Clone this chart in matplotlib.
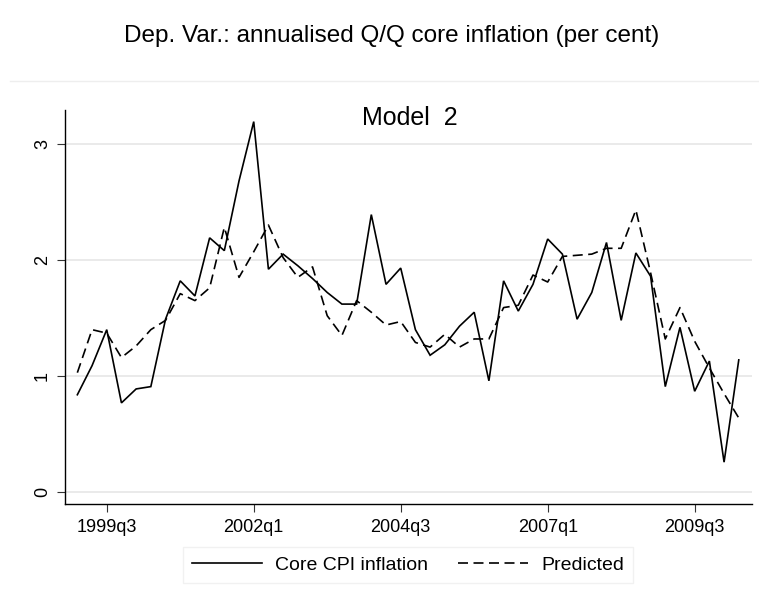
import matplotlib
matplotlib.use("Agg")
import matplotlib.pyplot as plt
from matplotlib.lines import Line2D

plt.rcParams['font.family'] = ['Liberation Sans', 'DejaVu Sans']

# Quarterly data, 1999q1 .. 2010q2
start_year = 1999
start_quarter = 1

core_cpi = [0.84, 1.09, 1.40, 0.77, 0.89, 0.91, 1.49, 1.82, 1.69, 2.19,
            2.08, 2.68, 3.19, 1.92, 2.05, 1.95, 1.84, 1.72, 1.62, 1.62,
            2.39, 1.79, 1.93, 1.40, 1.18, 1.27, 1.43, 1.55, 0.96, 1.82,
            1.56, 1.79, 2.18, 2.05, 1.49, 1.72, 2.15, 1.48, 2.06, 1.86,
            0.91, 1.42, 0.87, 1.13, 0.26, 1.14]

predicted = [1.03, 1.40, 1.37, 1.16, 1.26, 1.40, 1.48, 1.71, 1.65, 1.76,
             2.28, 1.85, 2.07, 2.30, 2.02, 1.85, 1.94, 1.52, 1.35, 1.65,
             1.55, 1.44, 1.47, 1.29, 1.25, 1.36, 1.25, 1.32, 1.32, 1.59,
             1.61, 1.87, 1.81, 2.03, 2.04, 2.05, 2.10, 2.10, 2.43, 1.89,
             1.32, 1.59, 1.30, 1.07, 0.85, 0.64]

tick_labels = ['1999q3', '2002q1', '2004q3', '2007q1', '2009q3']
y_ticks = [0, 1, 2, 3]


def quarter_index(label):
    y, q = label.split('q')
    return (int(y) - start_year) * 4 + int(q) - start_quarter


x = list(range(len(core_cpi)))

fig = plt.figure(figsize=(7.59, 6.05), dpi=100)
ax = fig.add_axes([65 / 759, 1 - 504 / 605, (752 - 65) / 759, (504 - 110) / 605])

grid_col = '#e8e8e8'
for yt in y_ticks:
    ax.axhline(yt, color=grid_col, lw=1.3, zorder=0)

dash = (0, (6.0, 3.3))
ax.plot(x, core_cpi, color='black', lw=1.2, solid_joinstyle='miter', zorder=3)
ax.plot(x, predicted, color='black', lw=1.2, linestyle=dash, zorder=2)

ax.set_xlim(-0.84, 45.9)
ax.set_ylim(-0.10, 3.29)

ax.set_xticks([quarter_index(t) for t in tick_labels])
ax.set_xticklabels(tick_labels)
ax.set_yticks(y_ticks)
ax.set_yticklabels([str(v) for v in y_ticks], rotation=90, va='center')

ax.tick_params(axis='both', direction='out', length=6, width=0.8,
               color='#333333', labelsize=13)
ax.tick_params(axis='x', pad=5)
ax.tick_params(axis='y', pad=4)

for side in ['top', 'right']:
    ax.spines[side].set_visible(False)
for side in ['left', 'bottom']:
    ax.spines[side].set_color('black')
    ax.spines[side].set_linewidth(1.0)

# titles
fig.text(392 / 759, 1 - 36 / 605,
         'Dep. Var.: annualised Q/Q core inflation (per cent)',
         ha='center', va='center', fontsize=17.5)
fig.add_artist(Line2D([10 / 759, 1.0], [1 - 81 / 605, 1 - 81 / 605],
                      color='#eeeeee', lw=1.0))
fig.text(410 / 759, 1 - 118 / 605, 'Model  2',
         ha='center', va='center', fontsize=18)

handles = [Line2D([], [], color='black', lw=1.2),
           Line2D([], [], color='black', lw=1.2, linestyle=dash)]
leg = fig.legend(handles, ['Core CPI inflation', 'Predicted'],
                 loc='center', bbox_to_anchor=(408 / 759, 1 - 565 / 605),
                 ncol=2, fontsize=14, frameon=True, fancybox=False,
                 handlelength=3.6, handletextpad=0.7, columnspacing=1.5,
                 borderpad=0.45)
leg.get_frame().set_edgecolor('#eeeeee')
leg.get_frame().set_linewidth(1.0)

fig.savefig('out.png', dpi=100)
